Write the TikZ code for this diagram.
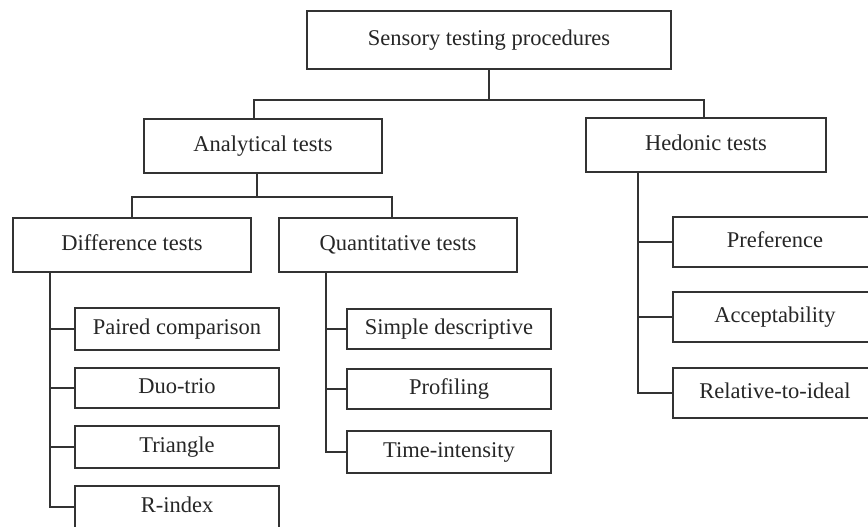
\documentclass[tikz,border=0pt]{standalone}
\usepackage{fontspec}
\setmainfont{Liberation Serif}
\begin{document}
\begin{tikzpicture}[x=1pt,y=-1pt,
  box/.style={draw=black!80, line width=1.4pt, fill=white, rectangle, inner sep=0pt,
    text=black!85, font=\fontsize{22.5}{26}\selectfont, text height=15pt, text depth=4pt},
  conn/.style={draw=black!80, line width=1.4pt}]
\useasboundingbox (0,0) rectangle (868,527);
\clip (0,0) rectangle (868,527);
% level 0 and 1
\node[box, minimum width=364, minimum height=58] (top) at (489,40) {Sensory testing procedures};
\node[box, minimum width=238, minimum height=54] (anal) at (263,146) {Analytical tests};
\node[box, minimum width=240, minimum height=54] (hed) at (706,145) {Hedonic tests};
% level 2
\node[box, minimum width=238, minimum height=54] (diff) at (132,245) {Difference tests};
\node[box, minimum width=238, minimum height=54] (quant) at (398,245) {Quantitative tests};
% difference children
\node[box, minimum width=204, minimum height=42] (paired) at (177,329) {Paired comparison};
\node[box, minimum width=204, minimum height=40] (duo) at (177,388) {Duo-trio};
\node[box, minimum width=204, minimum height=42] (tri) at (177,447) {Triangle};
\node[box, minimum width=204, minimum height=42] (rind) at (177,507) {R-index};
% quantitative children
\node[box, minimum width=204, minimum height=40] (simple) at (449,329) {Simple descriptive};
\node[box, minimum width=204, minimum height=40] (prof) at (449,389) {Profiling};
\node[box, minimum width=204, minimum height=42] (time) at (449,452) {Time-intensity};
% hedonic children
\node[box, minimum width=204, minimum height=50] (pref) at (775,242) {Preference};
\node[box, minimum width=204, minimum height=50] (acc) at (775,317) {Acceptability};
\node[box, minimum width=204, minimum height=50] (rel) at (775,393) {Relative-to-ideal};
% bus coordinates
\coordinate (bus0) at (489,100);
\coordinate (bus1) at (257,197);
\coordinate (dtrunk) at (50,272);
\coordinate (qtrunk) at (326,272);
\coordinate (htrunk) at (638,172);
% top level connectors
\draw[conn] (top.south) -- (bus0);
\draw[conn] ([xshift=-9]anal.north) |- (bus0) -| ([xshift=-2]hed.north);
% analytical connectors
\draw[conn] ([xshift=-6]anal.south) -- (bus1);
\draw[conn] (diff.north) |- (bus1) -| ([xshift=-6]quant.north);
% difference trunk
\draw[conn] (dtrunk) |- (rind.west);
\draw[conn] (dtrunk |- paired.west) -- (paired.west);
\draw[conn] (dtrunk |- duo.west) -- (duo.west);
\draw[conn] (dtrunk |- tri.west) -- (tri.west);
% quantitative trunk
\draw[conn] (qtrunk) |- (time.west);
\draw[conn] (qtrunk |- simple.west) -- (simple.west);
\draw[conn] (qtrunk |- prof.west) -- (prof.west);
% hedonic trunk
\draw[conn] (htrunk) |- (rel.west);
\draw[conn] (htrunk |- pref.west) -- (pref.west);
\draw[conn] (htrunk |- acc.west) -- (acc.west);
\end{tikzpicture}
\end{document}
